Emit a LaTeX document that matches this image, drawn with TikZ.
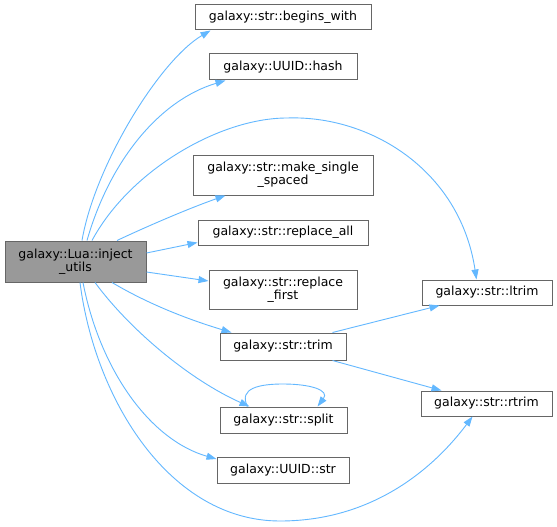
\documentclass[tikz,border=0pt]{standalone}
\usepackage{fontspec}
\setmainfont{DejaVu Sans}
\usetikzlibrary{arrows.meta}
\definecolor{edgec}{HTML}{63B8FF}
\definecolor{bordc}{HTML}{666666}
\definecolor{rootf}{HTML}{999999}
\begin{document}
\begin{tikzpicture}[x=1pt,y=1pt,
  fn/.style={draw=bordc, line width=1pt, fill=white, inner sep=0pt, align=center, font=\fontsize{12.5}{13.4}\selectfont},
  rootn/.style={fn, fill=rootf},
  call/.style={draw=edgec, line width=0.9pt, -{Triangle[length=10pt,width=7pt]}}]
\useasboundingbox (0,0) rectangle (557,-527);
\fill[white] (0,0) rectangle (557,-527);
\node[rootn, minimum width=141pt, minimum height=41pt] (root) at (75.5,-261.5) {galaxy::Lua::inject\\\_utils};
\node[fn, minimum width=176pt, minimum height=25pt] (bw) at (283,-17.5) {galaxy::str::begins\_with};
\node[fn, minimum width=148pt, minimum height=26pt] (hash) at (283,-67) {galaxy::UUID::hash};
\node[fn, minimum width=180pt, minimum height=40pt] (make) at (283,-175) {galaxy::str::make\_single\\\_spaced};
\node[fn, minimum width=170pt, minimum height=25pt] (rall) at (283,-232.5) {galaxy::str::replace\_all};
\node[fn, minimum width=148pt, minimum height=39pt] (rfirst) at (283,-289.5) {galaxy::str::replace\\\_first};
\node[fn, minimum width=126pt, minimum height=27pt] (trim) at (283,-346.5) {galaxy::str::trim};
\node[fn, minimum width=127pt, minimum height=26pt] (split) at (283.5,-420) {galaxy::str::split};
\node[fn, minimum width=132pt, minimum height=26pt] (ustr) at (283,-470) {galaxy::UUID::str};
\node[fn, minimum width=130pt, minimum height=25pt] (ltrim) at (487,-292.5) {galaxy::str::ltrim};
\node[fn, minimum width=131pt, minimum height=25pt] (rtrim) at (486.5,-403.5) {galaxy::str::rtrim};

\draw[call] ([xshift=6.5pt]root.north) .. controls (95,-165) and (160,-60) .. ([xshift=16pt]bw.south west);
\draw[call] ([xshift=11.5pt]root.north) .. controls (110,-160) and (160,-100) .. ([xshift=17pt]hash.south west);
\draw[call] ([xshift=16.5pt]root.north) .. controls (130,-170) and (220,-118) .. (287,-118)
  .. controls (370,-115) and (460,-170) .. ([xshift=55pt]ltrim.north west);
\draw[call] ([xshift=41.5pt]root.north) .. controls (150,-225) and (190,-208) .. ([xshift=33pt]make.south west);
\draw[call] ([yshift=8.5pt]root.east) -- ([yshift=-10pt]rall.west);
\draw[call] ([yshift=-10.5pt]root.east) -- ([yshift=8.5pt]rfirst.west);
\draw[call] ([xshift=36.5pt]root.south) .. controls (150,-305) and (190,-320) .. ([xshift=12pt]trim.north west);
\draw[call] ([xshift=19.5pt]root.south) .. controls (130,-330) and (190,-380) .. ([xshift=30pt]split.north west);
\draw[call] ([xshift=7.5pt]root.south) .. controls (100,-370) and (150,-440) .. ([yshift=11pt]ustr.west);
\draw[call] ([xshift=4.5pt]root.south) .. controls (95,-400) and (170,-521) .. (280,-521)
  .. controls (380,-521) and (440,-460) .. ([xshift=52pt]rtrim.south west);
\draw[call] ([xshift=-14pt]trim.north east) -- ([xshift=18pt]ltrim.south west);
\draw[call] ([xshift=-14pt]trim.south east) -- ([xshift=21pt]rtrim.north west);
\draw[call] ([xshift=28pt]split.north west) .. controls (238,-388) and (260,-384) .. (283,-384)
  .. controls (310,-384) and (330,-390) .. ([xshift=98pt]split.north west);
\end{tikzpicture}
\end{document}
